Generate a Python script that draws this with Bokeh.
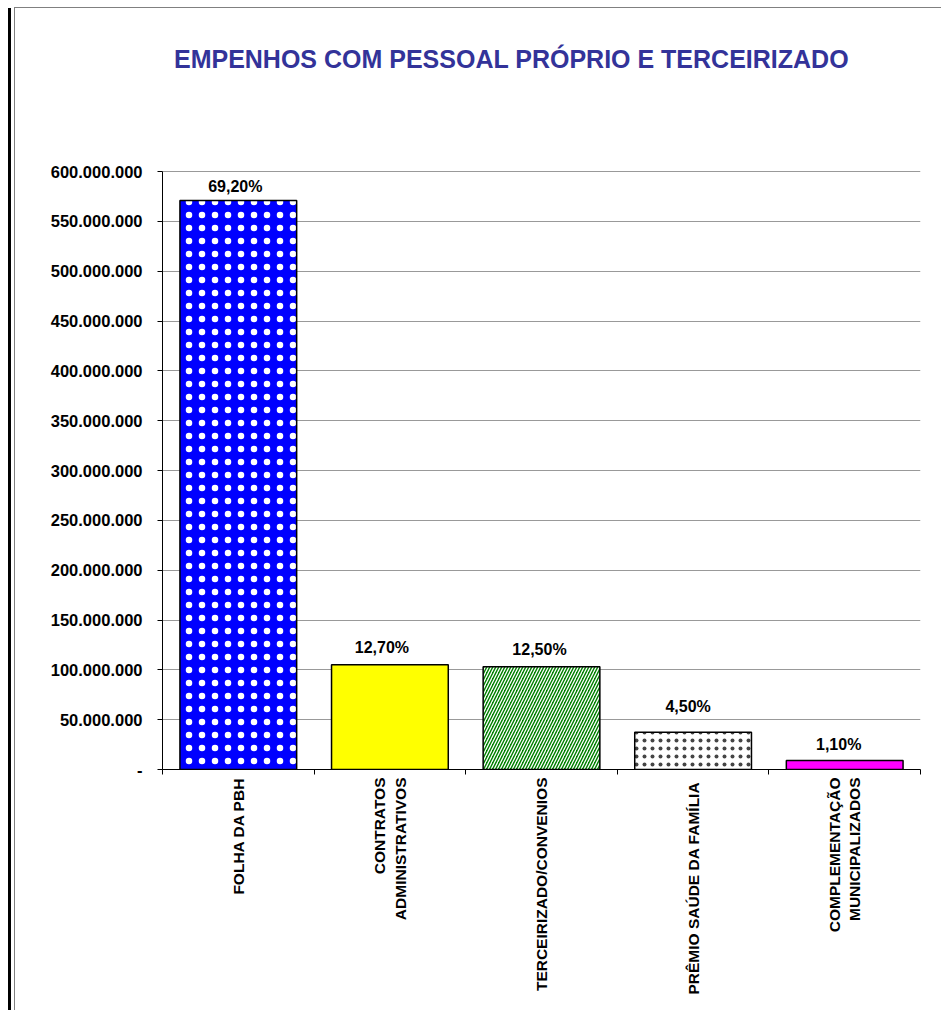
import math
from bokeh.plotting import figure
from bokeh.models import Range1d, FixedTicker, ColumnDataSource, LabelSet, Label
from bokeh.core.properties import value
from bokeh.embed import file_html
from bokeh.resources import INLINE

# ---- data ----
categories = ["FOLHA DA PBH", "CONTRATOS\nADMINISTRATIVOS", "TERCEIRIZADO/CONVENIOS",
              "PRÊMIO SAÚDE DA  FAMÍLIA", "COMPLEMENTAÇÃO\nMUNICIPALIZADOS"]
values = [571_000_000, 105_000_000, 103_000_000, 37_400_000, 9_000_000]
pct_labels = ["69,20%", "12,70%", "12,50%", "4,50%", "1,10%"]
y_ticks = list(range(0, 600_000_001, 50_000_000))
y_max = 600_000_000

# ---- styles ----
fill_colors = ["#0000FF", "#FFFF00", "#008000", "#FFFFFF", "#FF00FF"]
hatch_patterns = ["dot", "blank", "right_diagonal_line", "dot", "blank"]
hatch_colors = ["#FFFFFF", "#FFFFFF", "#FFFFFF", "#454545", "#FFFFFF"]
hatch_scales = [13, 6, 6, 8, 6]
hatch_weights = [1.0, 1, 1.3, 1.5, 1]
label_dx = [-3, -8, -2, -5, -6]
label_dy = [8, 12, 12, 20, 11]

FONT = "Liberation Sans"
xs = list(range(len(categories)))

# layout (pixels): frame spans x 162..920; value axis 0..600M spans y 769..171
FRAME_TOP, AXIS_TOP, AXIS_BOTTOM = 20, 171, 769
y_end = y_max * (AXIS_BOTTOM - FRAME_TOP) / (AXIS_BOTTOM - AXIS_TOP)

p = figure(width=941, height=1010, output_backend="svg", toolbar_location=None,
           x_range=Range1d(-0.5, len(categories) - 0.5), y_range=Range1d(0, y_end),
           min_border_left=162, min_border_right=21, min_border_top=FRAME_TOP,
           min_border_bottom=1010 - AXIS_BOTTOM)
p.outline_line_color = None
p.background_fill_color = "white"
p.border_fill_color = None
# window border of the original screenshot, drawn as CSS background of the plot element
p.styles = {
    "background-color": "white",
    "background-image": ("linear-gradient(#000000, #000000), linear-gradient(#808080, #808080), "
                         "linear-gradient(#808080, #808080)"),
    "background-size": "3.4px 100%, 1.2px 100%, 100% 1.4px",
    "background-position": "8.3px 8.3px, 14.3px 7px, 15px 7px",
    "background-repeat": "no-repeat",
}

src = ColumnDataSource(dict(x=xs, top=values, fill=fill_colors, hp=hatch_patterns,
                            hc=hatch_colors, hs=hatch_scales, hw=hatch_weights,
                            lab=pct_labels, dx=label_dx, dy=label_dy))
p.vbar(x="x", top="top", bottom=0, width=0.77, source=src, fill_color="fill",
       line_color="black", line_width=1.5, hatch_pattern="hp", hatch_color="hc",
       hatch_scale="hs", hatch_weight="hw")

p.add_layout(LabelSet(x="x", y="top", text="lab", source=src, x_offset="dx", y_offset="dy",
                      text_align="center", text_baseline="alphabetic",
                      text_font=value(FONT), text_font_style="bold", text_font_size="16px",
                      text_color="black"))

# title (inside the frame, above the value axis)
p.add_layout(Label(x=349, y=AXIS_BOTTOM - 58, x_units="screen", y_units="screen",
                   text="EMPENHOS COM PESSOAL PRÓPRIO E TERCEIRIZADO",
                   text_align="center", text_baseline="alphabetic",
                   text_font=FONT, text_font_style="bold", text_font_size="25px",
                   text_color="#333399"))

# y axis
yt = FixedTicker(ticks=y_ticks, minor_ticks=[])
p.yaxis.ticker = yt
p.yaxis.bounds = (0, y_max)
p.yaxis.major_label_overrides = {v: ("-" if v == 0 else f"{v:,}".replace(",", ".")) for v in y_ticks}
p.yaxis.major_label_text_font = FONT
p.yaxis.major_label_text_font_style = "bold"
p.yaxis.major_label_text_font_size = "16.5px"
p.yaxis.major_label_text_color = "black"
p.yaxis.major_label_standoff = 15
p.yaxis.major_tick_out = 5
p.yaxis.major_tick_in = 0
p.yaxis.minor_tick_line_color = None
p.yaxis.axis_line_color = "black"
p.yaxis.major_tick_line_color = "black"

# x axis
p.xaxis.ticker = FixedTicker(ticks=xs, minor_ticks=[i - 0.5 for i in range(len(categories) + 1)])
p.xaxis.major_label_overrides = {i: c for i, c in zip(xs, categories)}
p.xaxis.major_label_orientation = math.pi / 2
p.xaxis.major_label_text_align = "center"
p.xaxis.major_label_text_font = FONT
p.xaxis.major_label_text_font_style = "bold"
p.xaxis.major_label_text_font_size = "15.5px"
p.xaxis.major_label_text_color = "black"
p.xaxis.major_label_standoff = 3
p.xaxis.major_tick_out = 0
p.xaxis.major_tick_in = 0
p.xaxis.minor_tick_out = 5
p.xaxis.minor_tick_in = 0
p.xaxis.minor_tick_line_color = "black"
p.xaxis.axis_line_color = "black"

p.xgrid.visible = False
p.ygrid.ticker = yt
p.ygrid.grid_line_color = "#999999"
p.ygrid.grid_line_width = 1

open("out.html", "w").write(file_html(p, INLINE))
